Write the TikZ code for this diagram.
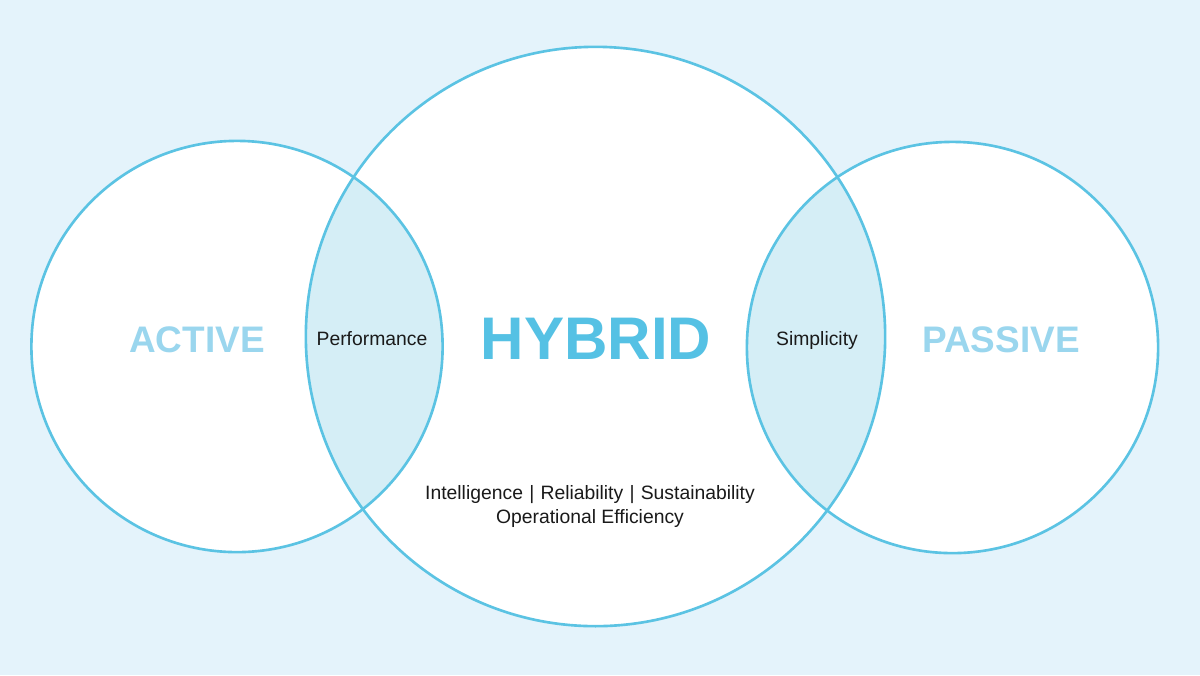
\documentclass[tikz,border=0pt]{standalone}
\usepackage{fontspec}
\setmainfont{Liberation Sans}
\definecolor{bgblue}{HTML}{E4F3FB}
\definecolor{ringblue}{HTML}{5BC3E3}
\definecolor{lensblue}{HTML}{D5EEF6}
\definecolor{lightlabel}{HTML}{9AD6EE}
\definecolor{hybridblue}{HTML}{55C1E4}
\definecolor{textdark}{HTML}{1A1A1A}
\newcommand{\vbarsep}{\kern0.25pt\textbar\kern0.25pt}
\begin{document}
\begin{tikzpicture}[x=0.01cm,y=-0.01cm,
  ring/.style={draw=ringblue,line width=0.75pt},
  biglabel/.style={font=\bfseries\fontsize{10.5}{12}\selectfont,text=lightlabel,inner sep=0pt},
  lenslabel/.style={font=\fontsize{5.5}{6.6}\selectfont,text=textdark,inner sep=0pt},
  hybridlabel/.style={font=\bfseries\fontsize{17.1}{20}\selectfont,text=hybridblue,inner sep=0pt}]
\useasboundingbox (0,0) rectangle (1200,675);
\fill[bgblue] (0,0) rectangle (1200,675);
% coordinates of circle centres
\coordinate (cl) at (237,346.5);
\coordinate (cc) at (595.5,336.5);
\coordinate (cr) at (952.5,347.5);
% white discs
\fill[white] (cl) circle[radius=2.055cm];
\fill[white] (cc) circle[radius=2.895cm];
\fill[white] (cr) circle[radius=2.055cm];
% lenses
\begin{scope}
  \clip (cl) circle[radius=2.055cm];
  \fill[lensblue] (cc) circle[radius=2.895cm];
\end{scope}
\begin{scope}
  \clip (cr) circle[radius=2.055cm];
  \fill[lensblue] (cc) circle[radius=2.895cm];
\end{scope}
% outlines
\draw[ring] (cl) circle[radius=2.055cm];
\draw[ring] (cc) circle[radius=2.895cm];
\draw[ring] (cr) circle[radius=2.055cm];
% labels
\node[biglabel] (active) at (197,340) {ACTIVE};
\node[biglabel] (passive) at (1001,340) {PASSIVE};
\node[hybridlabel] (hybrid) at (596,339) {HYBRID};
\node[lenslabel] (perf) at (372,339) {Performance};
\node[lenslabel] (simp) at (817,340) {Simplicity};
\node[lenslabel,align=center] (values) at (590,506.5) {Intelligence \vbarsep{} Reliability \vbarsep{} Sustainability\\Operational Efficiency};
\end{tikzpicture}
\end{document}
